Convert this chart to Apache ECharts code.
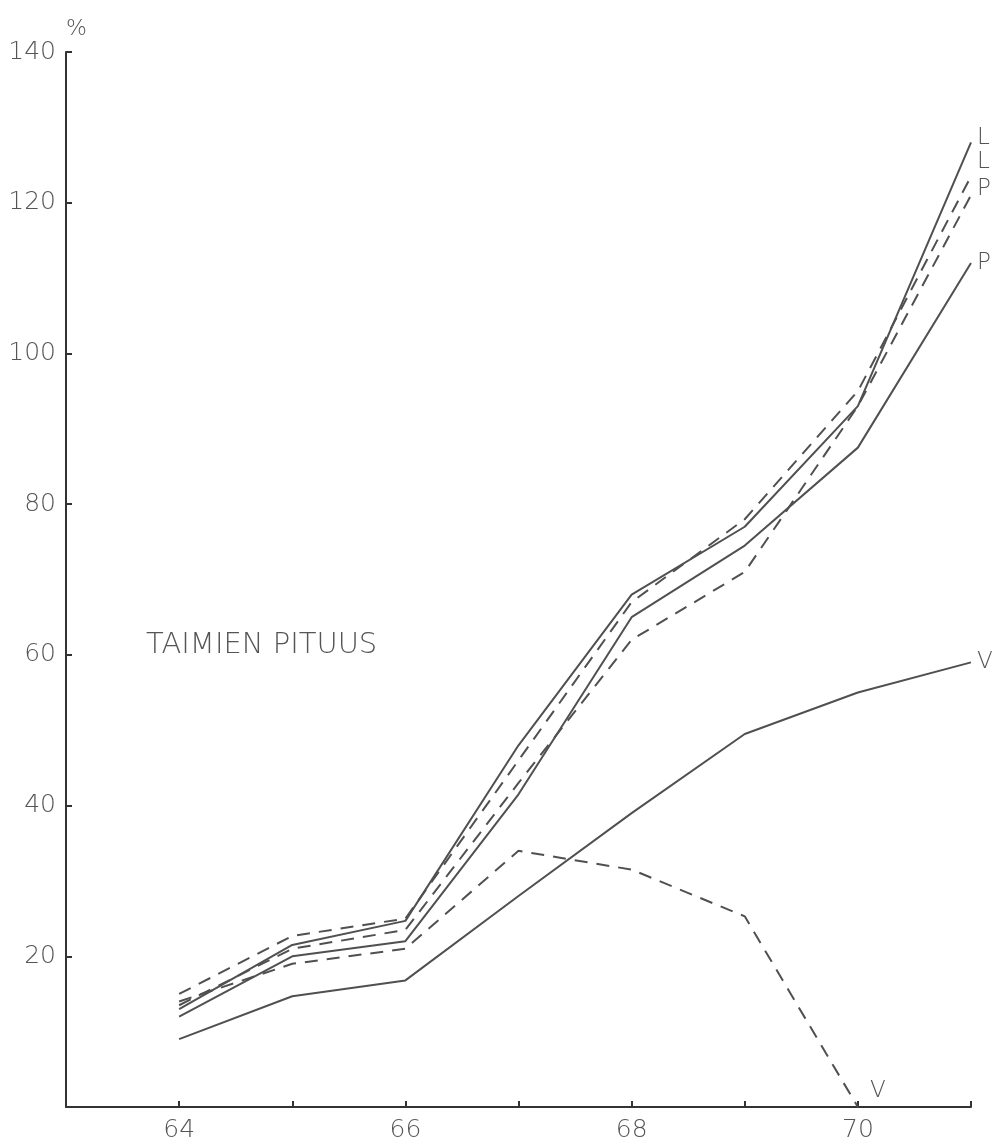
<!DOCTYPE html>
<html><head><meta charset="utf-8">
<script src="https://cdn.jsdelivr.net/npm/echarts@6/dist/echarts.min.js"></script>
<style>html,body{margin:0;padding:0;background:#fff}#c{width:1006px;height:1143px}</style>
</head><body><div id="c"></div>
<script>
const years = [64, 65, 66, 67, 68, 69, 70, 71];
const solidL = [13, 21.5, 24.7, 48, 68, 77, 93, 128];
const dashedL = [15, 22.7, 25, 46, 67, 78, 95, 123.5];
const solidP = [12, 20, 22, 41.5, 65, 74.5, 87.5, 112];
const dashedP = [13.5, 21, 23.5, 43, 62, 71, 93, 121];
const solidV = [9, 14.7, 16.8, 28, 39, 49.5, 55, 59];
const dashedV = [14, 19, 21, 34, 31.5, 25.3, 0];
const yTicks = [20, 40, 60, 80, 100, 120, 140];
const xLabels = [64, 66, 68, 70];

const lineColor = '#505050';
const textColor = '#555';
const font = 'DejaVu Sans';
function pts(vals){ return vals.map((v,i)=>[years[i], v]); }
function mk(name, vals, dashed, label, off){
  return {
    type:'line', name:name, data:pts(vals), symbol:'none', silent:true,
    lineStyle:{color:lineColor, width:2, type: dashed ? [13,9] : 'solid'},
    endLabel:{show:true, formatter:label, color:textColor, fontFamily:font, fontWeight:'lighter', fontSize:23, offset:off, distance:6}
  };
}
const chart = echarts.init(document.getElementById('c'));
chart.setOption({
  backgroundColor:'#fff',
  animation:false,
  grid:{left:66, right:35, top:52, bottom:36},
  title:{text:'TAIMIEN PITUUS', left:141, top:626,
    textStyle:{fontFamily:font, fontSize:29, fontWeight:'lighter', color:textColor}},
  xAxis:{type:'value', min:63, max:71, interval:1,
    axisLine:{lineStyle:{color:'#333', width:2}},
    axisTick:{inside:true, length:6, lineStyle:{color:'#333', width:2}},
    splitLine:{show:false},
    axisLabel:{fontFamily:font, fontWeight:'lighter', fontSize:25, color:textColor, margin:11,
      formatter:v=> xLabels.indexOf(v)>=0 ? String(v) : ''}},
  yAxis:{type:'value', min:0, max:140, interval:20, name:'%',
    nameGap:12, nameTextStyle:{fontFamily:font, fontWeight:'lighter', fontSize:22, color:textColor, align:'left', padding:[0,0,0,0]},
    axisLine:{show:true, lineStyle:{color:'#333', width:2}},
    axisTick:{show:true, inside:true, length:6, lineStyle:{color:'#333', width:2}},
    splitLine:{show:false},
    axisLabel:{fontFamily:font, fontWeight:'lighter', fontSize:25, color:textColor, margin:10,
      formatter:v=> yTicks.indexOf(v)>=0 ? String(v) : ''}},
  series:[
    mk('L solid', solidL, false, 'L', [0,-4]),
    mk('L dashed', dashedL, true, 'L', [0,-14]),
    mk('P dashed', dashedP, true, 'P', [0,-6]),
    mk('P solid', solidP, false, 'P', [0,0]),
    mk('V solid', solidV, false, 'V', [0,0]),
    mk('V dashed', dashedV, true, 'V', [6,-16])
  ]
});
</script></body></html>
